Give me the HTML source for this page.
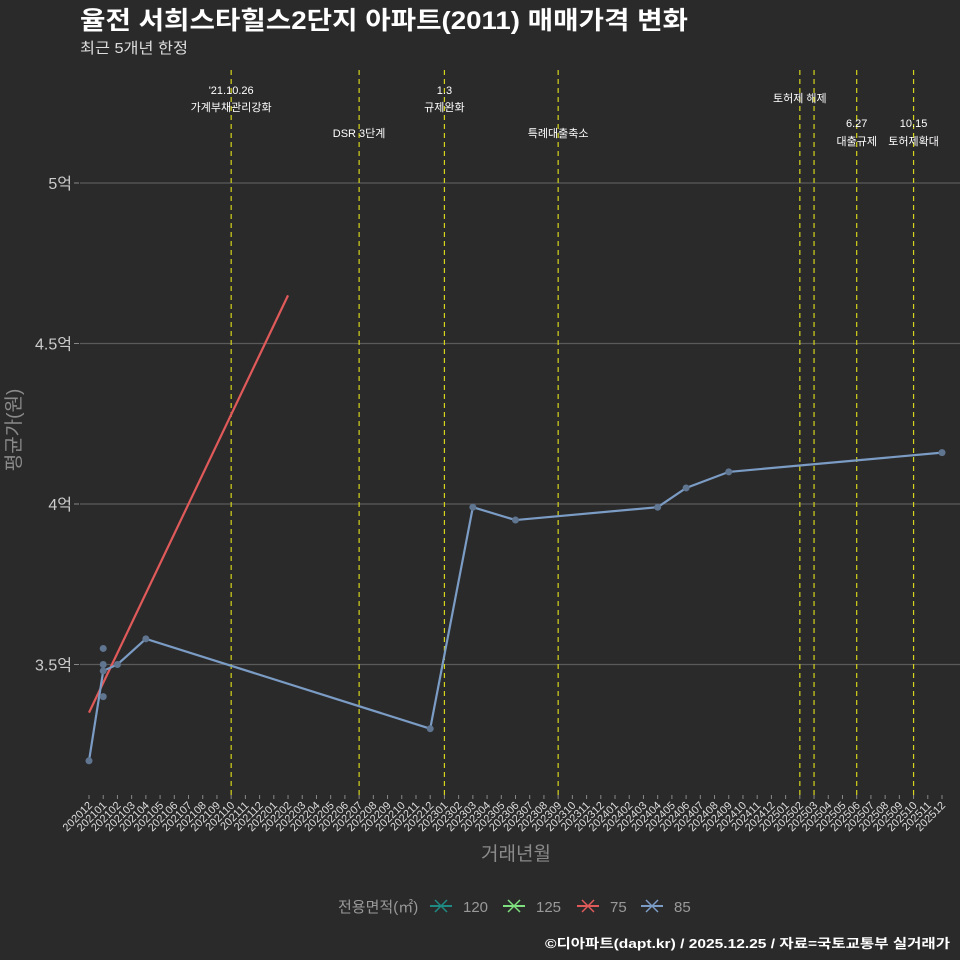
<!DOCTYPE html>
<html><head><meta charset="utf-8">
<style>
body{margin:0;background:#2b2a2b;}
svg{display:block;font-family:"Liberation Sans","Noto Sans CJK KR",sans-serif;}
</style></head>
<body>
<svg id="chart" width="960" height="960" viewBox="0 0 960 960">
<rect width="960" height="960" fill="#2b2a2b"/>
<text x="80" y="29" font-size="25" font-weight="bold" fill="#ffffff" textLength="608" lengthAdjust="spacingAndGlyphs">율전 서희스타힐스2단지 아파트(2011) 매매가격 변화</text>
<text x="80" y="53" font-size="15" fill="#dddddd" textLength="108" lengthAdjust="spacingAndGlyphs">최근 5개년 한정</text>
<g id="grid"></g><g id="events"></g><g id="series"></g><g id="xaxis"></g><g id="yaxis"></g>
<text x="516" y="860" font-size="19" fill="#8a8a8a" text-anchor="middle">거래년월</text>
<text transform="translate(20,430) rotate(-90)" font-size="19" fill="#8a8a8a" text-anchor="middle">평균가(원)</text>
<g id="legend"></g>
<text x="950" y="948" font-size="13" font-weight="bold" fill="#ffffff" text-anchor="end" textLength="405" lengthAdjust="spacingAndGlyphs">©디아파트(dapt.kr) / 2025.12.25 / 자료=국토교통부 실거래가</text>
</svg>
<script>
const months = [];
for (let y = 2020, m = 12; months.length < 61; ) { months.push(y + String(m).padStart(2,'0')); m++; if (m > 12) { m = 1; y++; } }
const yTicks = [3.5, 4, 4.5, 5];
const yTickLabels = ['3.5억','4억','4.5억','5억'];
const s85Months = ['202012','202101','202102','202104','202212','202303','202306','202404','202406','202409','202512'];
const s85Values = [3.2, 3.48, 3.5, 3.58, 3.3, 3.99, 3.95, 3.99, 4.05, 4.1, 4.16];
const s85ExtraMonths = ['202101','202101','202101'];
const s85ExtraValues = [3.55, 3.5, 3.4];
const s75Months = ['202012','202202'];
const s75Values = [3.35, 4.65];
const eventMonths = ['202110','202207','202301','202309','202502','202503','202506','202510'];
const eventLabels = [["'21.10.26","가계부채관리강화"],["DSR 3단계"],["1.3","규제완화"],["특례대출축소"],["토허제 해제"],[],["6.27","대출규제"],["10.15","토허제확대"]];
const eventLabelY = [[94,111],[137],[94,111],[137],[102],[],[127,145],[127,145]];
const legendKeys = ['120','125','75','85'];
const legendColors = ['#1f8a84','#7ee07e','#e05a5a','#7b9cc4'];

const NS='http://www.w3.org/2000/svg';
const X0=89, DX=(942-89)/60;
const xs = m => X0 + months.indexOf(m)*DX;
const ys = v => 504 - (v-4)*321;
function el(tag, attrs, parent){ const e=document.createElementNS(NS,tag); for(const k in attrs) e.setAttribute(k,attrs[k]); parent.appendChild(e); return e; }
const g = id => document.getElementById(id);

yTicks.forEach((t,i)=>{
  const l=el('line',{x1:80,x2:960,y1:ys(t),y2:ys(t),stroke:'#5a5a5a','stroke-width':1.2},g('grid'));
  
  
  const tk=el('line',{x1:74,x2:79,y1:ys(t),y2:ys(t),stroke:'#888'},g('yaxis'));
  
  
  const tx=el('text',{x:72,y:ys(t)+6,'font-size':16,fill:'#cccccc','text-anchor':'end'},g('yaxis'));
  tx.textContent=yTickLabels[i];
  
  
});

months.forEach(m=>{
  const x=xs(m);
  const tk=el('line',{x1:x,x2:x,y1:795,y2:799,stroke:'#888'},g('xaxis'));
  
  
  const tx=el('text',{x:0,y:0,'font-size':11,fill:'#dddddd','text-anchor':'end',transform:`translate(${x+4},${806}) rotate(-45)`},g('xaxis'));
  tx.textContent=m;
  
  
});

eventMonths.forEach((m,i)=>{
  const x=xs(m);
  const l=el('line',{x1:x,x2:x,y1:70,y2:795,stroke:'#d4d41a','stroke-width':1.2,'stroke-dasharray':'5,4'},g('events'));
  
  
  eventLabels[i].forEach((s,j)=>{
    const t=el('text',{x:x,y:eventLabelY[i][j],'font-size':11,fill:'#ffffff','text-anchor':'middle'},g('events'));
    t.textContent=s;
    
    
  });
});

function drawLine(ms, vs, color, name){
  const p=el('polyline',{points:ms.map((m,i)=>xs(m)+','+ys(vs[i])).join(' '),fill:'none',stroke:color,'stroke-width':2.2},g('series'));
  
  
}
drawLine(s75Months,s75Values,'#e05a5a','line-75');
drawLine(s85Months,s85Values,'#7b9cc4','line-85');
function drawPts(ms, vs, name){
  ms.forEach((m,i)=>{
    const c=el('circle',{cx:xs(m),cy:ys(vs[i]),r:3.5,fill:'#5f7590'},g('series'));
    
    
  });
}
drawPts(s85Months,s85Values,'point-85');
drawPts(s85ExtraMonths,s85ExtraValues,'point-85');

const lg=g('legend');
const lt=el('text',{x:338,y:912,'font-size':15,fill:'#999999'},lg);
lt.textContent='전용면적(㎡)';


const lx=[430,503,577,641];
legendKeys.forEach((k,i)=>{
  const x=lx[i];
  const gg=el('g',{},lg);
  
  
  el('line',{x1:x,x2:x+22,y1:906,y2:906,stroke:legendColors[i],'stroke-width':2},gg);
  el('line',{x1:x+5,x2:x+17,y1:900,y2:912,stroke:legendColors[i],'stroke-width':1.5},gg);
  el('line',{x1:x+5,x2:x+17,y1:912,y2:900,stroke:legendColors[i],'stroke-width':1.5},gg);
  const t=el('text',{x:x+33,y:912,'font-size':15,fill:'#999999'},gg);
  t.textContent=k;
});
</script>
</body></html>
